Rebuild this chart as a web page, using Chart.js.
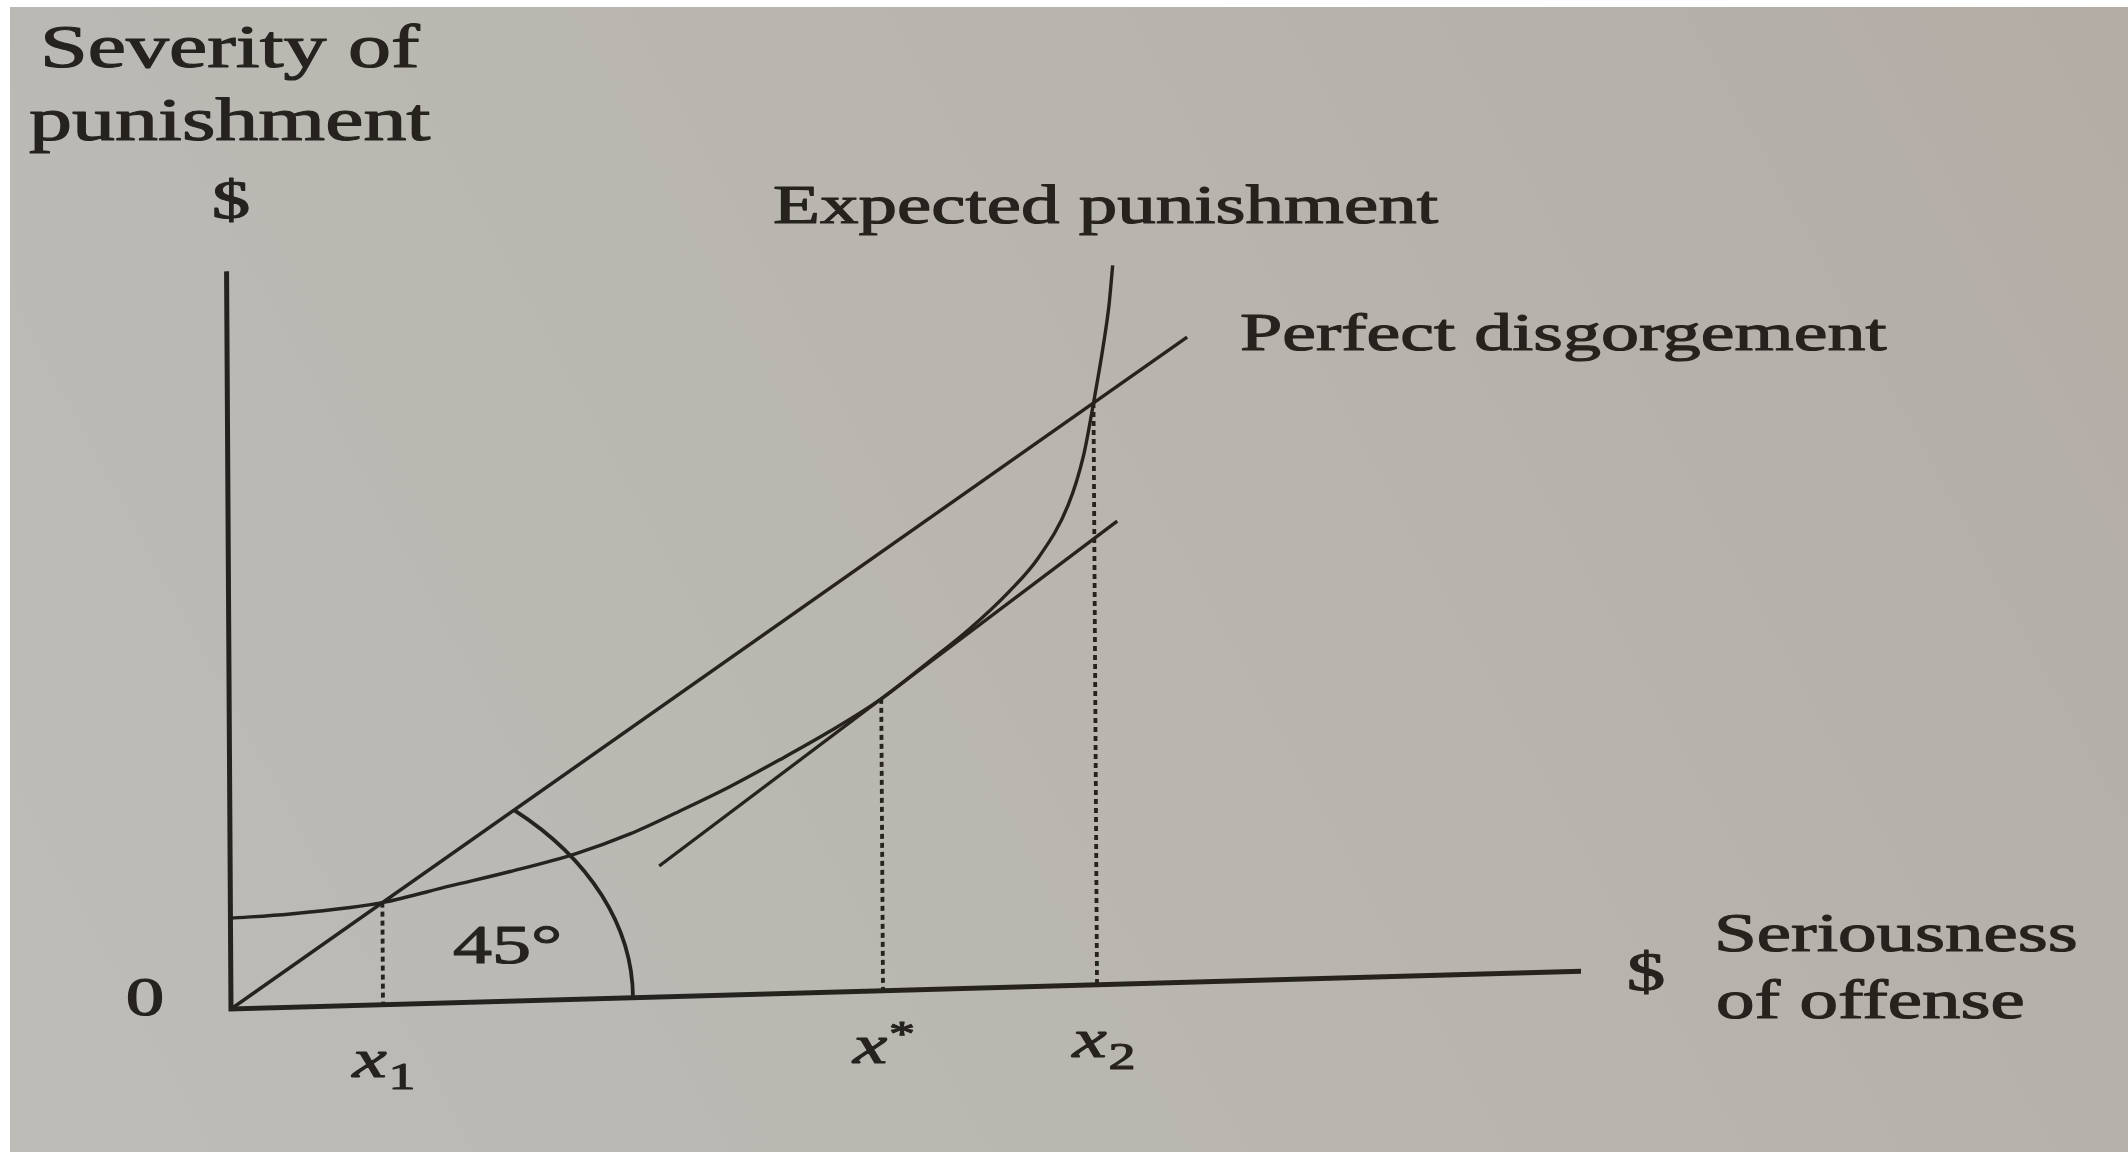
<!DOCTYPE html>
<html>
<head>
<meta charset="utf-8">
<script src="https://cdn.jsdelivr.net/npm/chart.js@4.4.1/dist/chart.umd.min.js"></script>
<style>
  html, body { margin: 0; padding: 0; background: #ffffff; overflow: hidden; }
  canvas { display: block; }
</style>
</head>
<body>
<canvas id="fig" width="2128" height="1155"></canvas>
<script>
// Seriousness of offense ($) sampled along the horizontal axis
const offenseX = [0, 0.6, 1.2, 1.52, 2.2, 2.8, 3.46, 4.0, 4.5, 5.0, 5.5, 6.0, 6.52, 7.0, 7.4, 7.8, 8.1, 8.4, 8.56, 8.66, 8.76, 8.82, 8.86];
// Expected punishment ($) at each of those offense levels
const expectedPunishment = [1.35, 1.39, 1.46, 1.52, 1.74, 1.93, 2.17, 2.44, 2.76, 3.1, 3.48, 3.88, 4.345, 4.88, 5.34, 5.88, 6.38, 7.15, 7.9, 8.66, 9.5, 10.1, 10.7];
// Perfect disgorgement: punishment equal to the gain (the 45° line)
const disgorgementX = [0, 9.6];
const disgorgementY = [0, 9.6];
// Line tangent to the expected-punishment curve at x*
const tangentX = [4.29, 8.89];
const tangentY = [1.95, 6.89];
// Marked offense levels and the punishment reached there
const markNames = ['x1', 'x*', 'x2'];
const markX = [1.52, 6.52, 8.66];
const markY = [1.52, 4.345, 8.66];
// Axis extents and the radius of the 45° angle arc
const axisXMax = 13.5;
const axisYMax = 10.98;
const arcRadius = 4.02;

// Page geometry: the printed page is seen slightly sheared
const SLOPE = 0.028;   // horizontal lines rise to the right
const LEAN = 0.006;    // vertical lines lean left toward the top
const SQUISH = 0.7;    // glyphs appear flattened vertically
const INK = '#26231f';
const SERIF = '"Liberation Serif", "Times New Roman", serif';

const pts = (xs, ys) => xs.map((x, i) => ({ x, y: ys[i] }));

function origin(chart) {
  return { ox: chart.scales.x.getPixelForValue(0), oy: chart.scales.y.getPixelForValue(0) };
}
function toScreen(chart, px, py) {
  const { ox, oy } = origin(chart);
  return { x: px + LEAN * (py - oy), y: py - SLOPE * (px - ox) };
}

function text(ctx, str, x, y, size, opt = {}) {
  ctx.save();
  ctx.translate(x, y);
  ctx.scale(1, SQUISH);
  ctx.font = (opt.italic ? 'italic ' : '') + size + 'px ' + SERIF;
  ctx.textAlign = opt.align || 'left';
  ctx.textBaseline = 'alphabetic';
  ctx.fillStyle = INK;
  ctx.strokeStyle = INK;
  ctx.lineWidth = 1.6;
  ctx.lineJoin = 'round';
  ctx.fillText(str, 0, 0);
  ctx.strokeText(str, 0, 0);
  ctx.restore();
}
function measure(ctx, str, size, italic) {
  ctx.save();
  ctx.font = (italic ? 'italic ' : '') + size + 'px ' + SERIF;
  const w = ctx.measureText(str).width;
  ctx.restore();
  return w;
}

const datasets = [
  { // axes
    data: [{ x: 0, y: axisYMax }, { x: 0, y: 0 }, { x: axisXMax, y: 0 }],
    borderWidth: 5, borderJoinStyle: 'miter', borderCapStyle: 'butt'
  },
  { // expected punishment
    data: pts(offenseX, expectedPunishment),
    borderWidth: 3.4, cubicInterpolationMode: 'monotone'
  },
  { // perfect disgorgement
    data: pts(disgorgementX, disgorgementY), borderWidth: 3.4
  },
  { // tangent at x*
    data: pts(tangentX, tangentY), borderWidth: 3.4
  }
];
markX.forEach((mx, i) => {
  datasets.push({
    data: [{ x: mx, y: markY[i] }, { x: mx, y: 0 }],
    borderWidth: 3.8, borderDash: [5, 4], borderCapStyle: 'butt'
  });
});
datasets.forEach(d => Object.assign(d, {
  borderColor: INK, pointRadius: 0, fill: false, clip: false, tension: 0
}));

const pagePlugin = {
  id: 'page',
  beforeDraw(chart) {
    const ctx = chart.ctx;
    const W = chart.width, H = chart.height;
    const g = ctx.createLinearGradient(0, H, W, 0);
    g.addColorStop(0, '#bebcb7');
    g.addColorStop(0.5, '#b9b6b0');
    g.addColorStop(1, '#b3ada6');
    ctx.save();
    ctx.fillStyle = g;
    ctx.fillRect(0, 0, W, H);
    ctx.restore();
    const { ox, oy } = origin(chart);
    ctx.save();
    ctx.transform(1, -SLOPE, LEAN, 1, -LEAN * oy, SLOPE * ox);
  },
  afterDatasetsDraw(chart) {
    // 45° angle arc around the origin, drawn in data units
    const ctx = chart.ctx, xs = chart.scales.x, ys = chart.scales.y;
    const cx = xs.getPixelForValue(0), cy = ys.getPixelForValue(0);
    const rx = xs.getPixelForValue(arcRadius) - cx;
    const ry = cy - ys.getPixelForValue(arcRadius);
    ctx.save();
    ctx.strokeStyle = INK;
    ctx.lineWidth = 3.8;
    ctx.beginPath();
    ctx.ellipse(cx, cy, rx, ry, 0, -Math.PI / 4, 0);
    ctx.stroke();
    ctx.restore();
  },
  afterDraw(chart) {
    const ctx = chart.ctx;
    ctx.restore(); // end of page shear
    const xs = chart.scales.x, ys = chart.scales.y;

    // axis titles and curve names
    text(ctx, 'Severity of', 40, 67, 86);
    text(ctx, 'punishment', 29, 140, 86);
    text(ctx, '$', xs.getPixelForValue(0), 218, 77, { align: 'center' });
    text(ctx, 'Expected punishment', 773, 223, 77);
    text(ctx, 'Perfect disgorgement', 1240, 350, 76);
    text(ctx, 'Seriousness', 1714, 951, 77);
    text(ctx, 'of offense', 1716, 1018, 77);
    text(ctx, '$', 1646, 990, 77, { align: 'center' });
    text(ctx, '0', 145, 1015, 77, { align: 'center' });
    text(ctx, '45°', 453, 963, 78);

    // labels under the marked offense levels
    markNames.forEach((name, i) => {
      const base = toScreen(chart, xs.getPixelForValue(markX[i]), ys.getPixelForValue(0));
      const main = name[0], sub = name.slice(1);
      const isStar = sub === '*';
      const mainSize = 77, subSize = isStar ? 52 : 54;
      const w1 = measure(ctx, main, mainSize, true);
      const w2 = measure(ctx, sub, subSize, false);
      const left = base.x - (w1 + w2) / 2 + (i === 2 ? 6 : 0);
      const baseline = base.y + 72;
      text(ctx, main, left, baseline, mainSize, { italic: true });
      text(ctx, sub, left + w1 + 2, isStar ? baseline - 17 : baseline + 12, subSize);
    });

    // white margins of the page image
    ctx.save();
    ctx.fillStyle = '#ffffff';
    ctx.fillRect(0, 0, chart.width, 7);
    ctx.fillRect(0, 0, 10, chart.height);
    ctx.fillRect(0, chart.height - 3, chart.width, 3);
    ctx.restore();
  }
};

new Chart(document.getElementById('fig'), {
  type: 'line',
  data: { datasets },
  options: {
    responsive: false,
    animation: false,
    devicePixelRatio: 1,
    layout: { padding: { left: 231, right: 547, top: 270, bottom: 146 } },
    scales: {
      x: { type: 'linear', min: 0, max: axisXMax, display: false },
      y: { type: 'linear', min: 0, max: 11, display: false }
    },
    plugins: { legend: { display: false }, tooltip: { enabled: false }, title: { display: false } },
    events: []
  },
  plugins: [pagePlugin]
});
</script>
</body>
</html>
